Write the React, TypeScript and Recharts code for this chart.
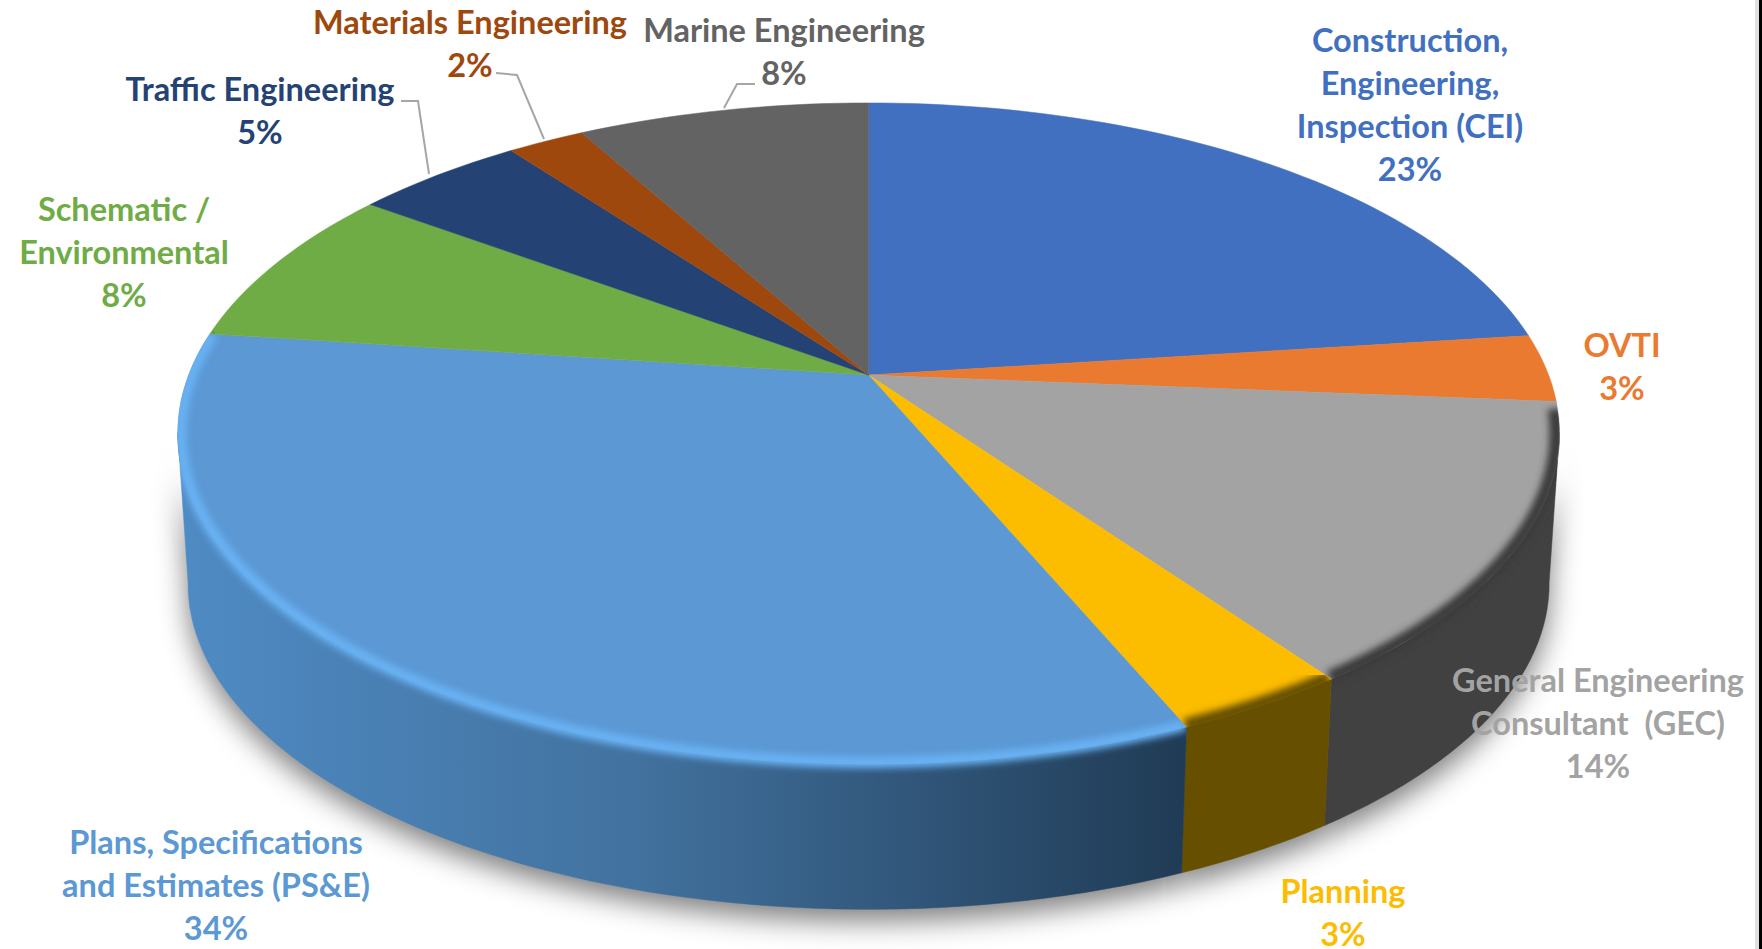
import React from 'react'
import { PieChart, Pie } from 'recharts'

const categories = [
    'Construction, Engineering, Inspection (CEI)',
    'OVTI',
    'General Engineering Consultant (GEC)',
    'Planning',
    'Plans, Specifications and Estimates (PS&E)',
    'Schematic / Environmental',
    'Traffic Engineering',
    'Materials Engineering',
    'Marine Engineering'
]
const shares = [23, 3.3, 13.8, 3.5, 33.5, 7.9, 4.75, 2.15, 8.1]
const shareLabels = ['23%', '3%', '14%', '3%', '34%', '8%', '5%', '2%', '8%']
const labelLines = [
    ['Construction,', 'Engineering,', 'Inspection (CEI)'],
    ['OVTI'],
    ['General Engineering', 'Consultant  (GEC)'],
    ['Planning'],
    ['Plans, Specifications', 'and Estimates (PS&E)'],
    ['Schematic /', 'Environmental'],
    ['Traffic Engineering'],
    ['Materials Engineering'],
    ['Marine Engineering']
]
const topColors = ['#4270c0', '#e97a30', '#a3a3a3', '#fcbc00', '#5b98d4', '#70ac46', '#244274', '#9e480e', '#636363']
const wallColors = ['#2c4a80', '#9c5320', '#414141', '#665000', 'url(#blueWall)', '#4a722f', '#182c4d', '#693009', '#424242']
const rimColors = ['#2c4a80', '#9c5320', '#3a3a3a', '#665000', '#69b2f4', '#4a722f', '#182c4d', '#693009', '#424242']

// centre x / first baseline of each label block
const labelAnchors = [
    [1410, 52], [1622, 357], [1598, 692], [1343, 903], [216, 854], [124, 221], [260, 101], [470, 34], [784, 42]
]
const leaderLines = [
    null, null, null, null, null, null,
    '401,101 418,101 429,174',
    '496,73 517,75 544,139',
    '755,84 737,84 724,108'
]

const tableData = categories.map((name, i) => ({ name, value: shares[i], fill: topColors[i] }))

const SQUASH = 0.471
const TILT = 0.177
const WALL = 151
const BASE_SCALE = 0.985
const LINE_GAP = 43

// Circle angle (clockwise from the back of the disc) to screen, with some perspective
function project(cx: number, cy: number, r: number, t: number, drop = 0) {
    const rad = (t * Math.PI) / 180
    const X = Math.sin(rad)
    const Y = -Math.cos(rad)
    const d = 1 - TILT * Y
    return [cx + (r * X) / d, cy + (r * SQUASH * Y) / d + drop]
}

function arcPoints(cx: number, cy: number, r: number, from: number, to: number, drop = 0) {
    const steps = Math.max(2, Math.ceil(Math.abs(to - from) / 1.5))
    const pts = []
    for (let i = 0; i <= steps; i++) {
        const p = project(cx, cy, r, from + ((to - from) * i) / steps, drop)
        pts.push(`${p[0].toFixed(1)},${p[1].toFixed(1)}`)
    }
    return pts
}

// only the part of the side between the two silhouette points shows
function wallPath(props: any) {
    const { cx, cy, outerRadius, startAngle, endAngle } = props
    const from = Math.max(90 - startAngle, 100)
    const to = Math.min(90 - endAngle, 260)
    if (to <= from) return null
    const top = arcPoints(cx, cy, outerRadius, from, to)
    const bottom = arcPoints(cx, cy, outerRadius * BASE_SCALE, to, from, WALL)
    return `M${top.join('L')}L${bottom.join('L')}Z`
}

function ShadowSlice(props: any) {
    const d = wallPath(props)
    if (!d) return <g />
    return <path d={d} fill="#000" fillOpacity={0.5} transform="translate(0 12)" filter="url(#softShadow)" />
}

function WallSlice(props: any) {
    const d = wallPath(props)
    if (!d) return <g />
    return <path d={d} fill={wallColors[props.index]} stroke={wallColors[props.index]} strokeWidth={0.5} />
}

function TopSlice(props: any) {
    const { cx, cy, outerRadius, startAngle, endAngle, index } = props
    const from = 90 - startAngle
    const to = 90 - endAngle
    const arc = arcPoints(cx, cy, outerRadius, from, to)
    const d = `M${cx},${cy}L${arc.join('L')}Z`
    const clipId = `topClip${index}`
    const wall = wallPath(props)
    const rimFrom = Math.max(from, 96)
    const rimTo = Math.min(to, 278)
    return (
        <g>
            <clipPath id={clipId}>
                <path d={d} />
                {wall && <path d={wall} />}
            </clipPath>
            <path d={d} fill={topColors[index]} stroke={topColors[index]} strokeWidth={0.5} />
            {rimTo > rimFrom && (
                <g clipPath={`url(#${clipId})`}>
                    <path
                        d={`M${arcPoints(cx, cy, outerRadius - 3, rimFrom, rimTo).join('L')}`}
                        fill="none"
                        stroke={rimColors[index]}
                        strokeWidth={index === 4 ? 11 : 14}
                        filter="url(#rimBlur)"
                    />
                </g>
            )}
        </g>
    )
}

function SliceLabel(props: any) {
    const { index } = props
    const [x, y] = labelAnchors[index]
    const lines = labelLines[index]
    return (
        <g>
            {leaderLines[index] && <polyline points={leaderLines[index]} fill="none" stroke="#a6a6a6" strokeWidth={2} />}
            <text x={x} y={y} textAnchor="middle" fill={topColors[index]} fontFamily="Lato" fontWeight={700} fontSize={32.5}>
                {lines.map((line, i) => (
                    <tspan key={i} x={x} y={y + i * LINE_GAP} style={{ whiteSpace: 'pre' }}>{line}</tspan>
                ))}
                <tspan x={x} y={y + lines.length * LINE_GAP}>{shareLabels[index]}</tspan>
            </text>
        </g>
    )
}

export default function App() {
    const pieProps = {
        data: tableData,
        dataKey: 'value',
        nameKey: 'name',
        cx: 868.6,
        cy: 375,
        outerRadius: 680,
        startAngle: 90,
        endAngle: -270,
        paddingAngle: 0,
        stroke: 'none',
        isAnimationActive: false
    }
    return (
        <div style={{ position: 'absolute', left: 0, top: 0, width: 1762, height: 949, background: '#fff', overflow: 'hidden' }}>
            <PieChart width={1762} height={949} margin={{ top: 0, right: 0, bottom: 0, left: 0 }}>
                <defs>
                    <filter id="softShadow" x="-10%" y="-10%" width="120%" height="130%">
                        <feGaussianBlur stdDeviation="14" />
                    </filter>
                    <filter id="rimBlur" x="-5%" y="-5%" width="110%" height="110%">
                        <feGaussianBlur stdDeviation="3.5" />
                    </filter>
                    <linearGradient id="blueWall" gradientUnits="userSpaceOnUse" x1="180" y1="0" x2="1185" y2="0">
                        <stop offset="0%" stopColor="#4f8bc4" />
                        <stop offset="45%" stopColor="#42729f" />
                        <stop offset="100%" stopColor="#203b55" />
                    </linearGradient>
                </defs>
                <Pie {...pieProps} shape={ShadowSlice} />
                <Pie {...pieProps} shape={WallSlice} />
                <Pie {...pieProps} shape={TopSlice} label={SliceLabel} labelLine={false} />
            </PieChart>
            <div style={{ position: 'absolute', left: 1755, top: 0, width: 4, height: 949, background: '#e0e0e0' }} />
            <div style={{ position: 'absolute', left: 1759, top: 0, width: 3, height: 949, background: '#000' }} />
        </div>
    )
}
